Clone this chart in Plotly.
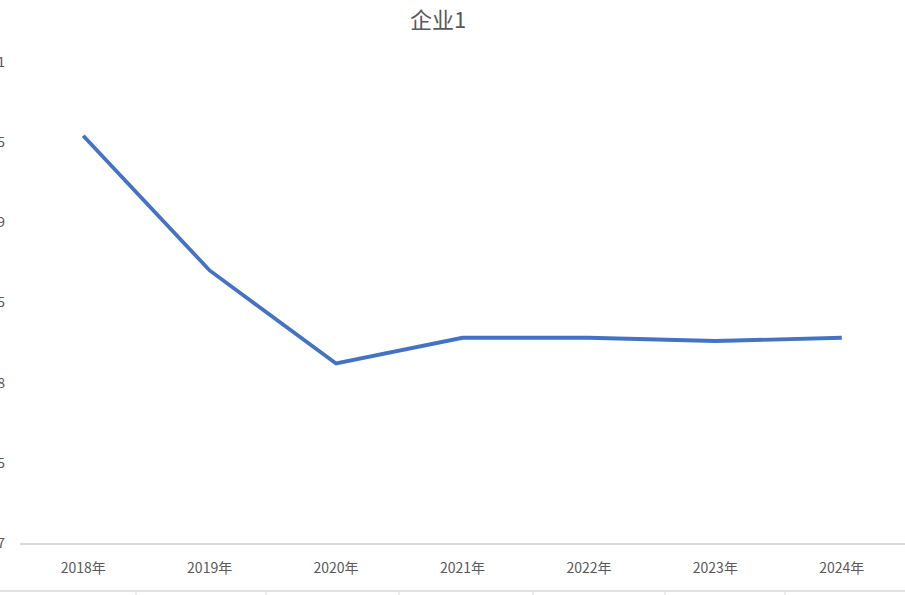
import plotly.graph_objects as go

years = ["2018年", "2019年", "2020年", "2021年", "2022年", "2023年", "2024年"]
values = [0.954, 0.870, 0.812, 0.828, 0.828, 0.826, 0.828]
y_ticks = [0.7, 0.75, 0.8, 0.85, 0.9, 0.95, 1.0]
y_tick_labels = ["0.7", "0.75", "0.8", "0.85", "0.9", "0.95", "1"]
title_text = "企业1"

fig = go.Figure()
fig.add_trace(go.Scatter(
    x=years, y=values, mode="lines",
    line=dict(color="#4472C4", width=3.8),
    hoverinfo="x+y",
))

font_family = "Noto Sans CJK SC, Noto Sans, sans-serif"

fig.update_layout(
    width=905, height=595,
    margin=dict(l=20, r=0, t=62, b=52, autoexpand=False),
    paper_bgcolor="white", plot_bgcolor="white",
    showlegend=False,
    title=dict(text=title_text, x=0.484, xanchor="center", y=0.966, yanchor="middle",
               font=dict(family=font_family, size=22, color="#595959")),
    font=dict(family=font_family, size=14, color="#595959"),
)
fig.update_xaxes(
    type="category", range=[-0.5, 6.5], showgrid=False, showline=True,
    linecolor="#d9d9d9", linewidth=1.5,
    ticks="", tickfont=dict(size=14, color="#595959"), ticklabelstandoff=11,
    zeroline=False,
)
fig.update_yaxes(
    range=[0.7, 1.0], tickvals=y_ticks, ticktext=y_tick_labels,
    showgrid=False, showline=False, zeroline=False, ticks="",
    tickfont=dict(size=14, color="#595959"), ticklabelstandoff=14,
)

# partial table grid visible at the bottom edge of the crop
fig.add_shape(type="line", xref="paper", yref="paper", x0=-0.03, x1=1.0, y0=-0.0998, y1=-0.0998,
              line=dict(color="#d9d9d9", width=1.5))
for xp in [136, 266, 399, 533, 665, 785]:
    xf = (xp - 20) / 885
    fig.add_shape(type="line", xref="paper", yref="paper", x0=xf, x1=xf, y0=-0.0998, y1=-0.12,
                  line=dict(color="#d9d9d9", width=1))

fig.write_html("out.html", config={"displayModeBar": False},
               post_script="document.body.style.margin='0px';")
